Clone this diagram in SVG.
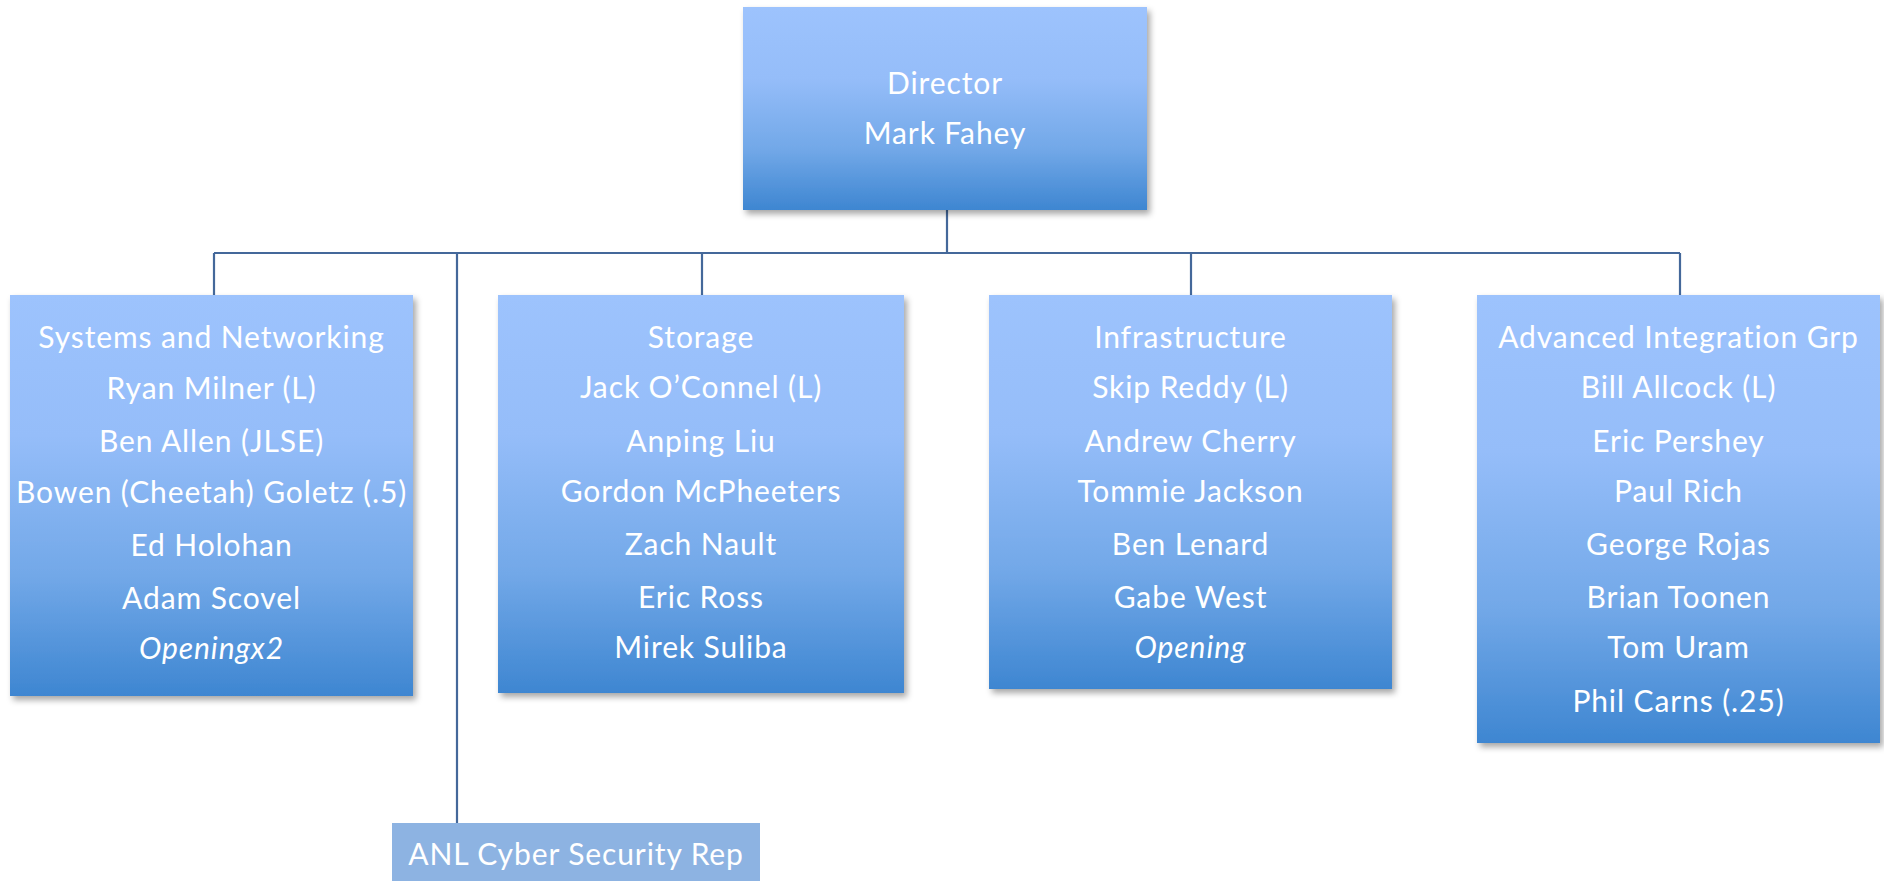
<svg xmlns="http://www.w3.org/2000/svg" width="1884" height="881" viewBox="0 0 1884 881">
  <style>
    .box { fill: url(#boxFill); filter: url(#shadow); }
    .flat { fill: #8db3e2; }
    .lbl { font-family: Lato, "Liberation Sans", sans-serif; font-size: 30px; letter-spacing: 0.9px; fill: #ffffff; text-anchor: middle; }
    .it { font-style: italic; }
    .conn { stroke: #44689a; stroke-width: 2.2; fill: none; }
  </style>
  <defs>
    <linearGradient id="boxFill" x1="0" y1="0" x2="0" y2="1">
      <stop offset="0" stop-color="#9dc3fd"/>
      <stop offset="0.35" stop-color="#95bdf9"/>
      <stop offset="0.7" stop-color="#72a8e8"/>
      <stop offset="1" stop-color="#3e86d1"/>
    </linearGradient>
    <filter id="shadow" x="-5%" y="-5%" width="115%" height="115%">
      <feDropShadow dx="3" dy="4" stdDeviation="3" flood-color="#000" flood-opacity="0.35"/>
    </filter>
  </defs>
  <rect width="1884" height="881" fill="#ffffff"/>

  <!-- connectors -->
  <g id="connectors">
    <path class="conn" d="M947 210 V253"/>
    <path class="conn" d="M214 253 H1680"/>
    <path class="conn" d="M214 253 V295"/>
    <path class="conn" d="M702 253 V295"/>
    <path class="conn" d="M1191 253 V295"/>
    <path class="conn" d="M1680 253 V295"/>
    <path class="conn" d="M457 253 V823"/>
  </g>

  <g id="director">
    <rect class="box" x="743" y="7" width="404" height="203"/>
    <text class="lbl" x="945" y="94">Director</text>
    <text class="lbl" x="945" y="144">Mark Fahey</text>
  </g>

  <g id="systems">
    <rect class="box" x="10" y="295" width="403" height="401"/>
    <text class="lbl" x="211.5" y="348">Systems and Networking</text>
    <text class="lbl" x="211.5" y="399">Ryan Milner (L)</text>
    <text class="lbl" x="211.5" y="452">Ben Allen (JLSE)</text>
    <text class="lbl" x="211.5" y="503">Bowen (Cheetah) Goletz (.5)</text>
    <text class="lbl" x="211.5" y="556">Ed Holohan</text>
    <text class="lbl" x="211.5" y="609">Adam Scovel</text>
    <text class="lbl it" x="211.5" y="659">Openingx2</text>
  </g>

  <g id="storage">
    <rect class="box" x="498" y="295" width="406" height="398"/>
    <text class="lbl" x="701" y="348">Storage</text>
    <text class="lbl" x="701" y="398">Jack O’Connel (L)</text>
    <text class="lbl" x="701" y="452">Anping Liu</text>
    <text class="lbl" x="701" y="502">Gordon McPheeters</text>
    <text class="lbl" x="701" y="555">Zach Nault</text>
    <text class="lbl" x="701" y="608">Eric Ross</text>
    <text class="lbl" x="701" y="658">Mirek Suliba</text>
  </g>

  <g id="infrastructure">
    <rect class="box" x="989" y="295" width="403" height="394"/>
    <text class="lbl" x="1190.5" y="348">Infrastructure</text>
    <text class="lbl" x="1190.5" y="398">Skip Reddy (L)</text>
    <text class="lbl" x="1190.5" y="452">Andrew Cherry</text>
    <text class="lbl" x="1190.5" y="502">Tommie Jackson</text>
    <text class="lbl" x="1190.5" y="555">Ben Lenard</text>
    <text class="lbl" x="1190.5" y="608">Gabe West</text>
    <text class="lbl it" x="1190.5" y="658">Opening</text>
  </g>

  <g id="advanced-integration">
    <rect class="box" x="1477" y="295" width="403" height="448"/>
    <text class="lbl" x="1678.5" y="348">Advanced Integration Grp</text>
    <text class="lbl" x="1678.5" y="398">Bill Allcock (L)</text>
    <text class="lbl" x="1678.5" y="452">Eric Pershey</text>
    <text class="lbl" x="1678.5" y="502">Paul Rich</text>
    <text class="lbl" x="1678.5" y="555">George Rojas</text>
    <text class="lbl" x="1678.5" y="608">Brian Toonen</text>
    <text class="lbl" x="1678.5" y="658">Tom Uram</text>
    <text class="lbl" x="1678.5" y="712">Phil Carns (.25)</text>
  </g>

  <g id="cyber-security">
    <rect class="flat" x="392" y="823" width="368" height="58"/>
    <text class="lbl" x="576" y="865">ANL Cyber Security Rep</text>
  </g>
</svg>
